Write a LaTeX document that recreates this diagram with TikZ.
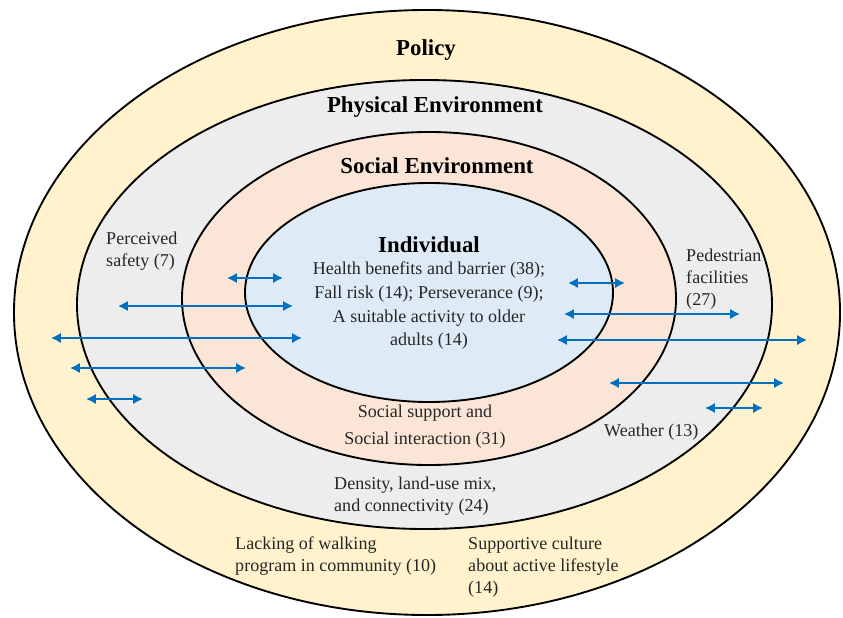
\documentclass[tikz,border=0pt]{standalone}
\usepackage{fontspec}
\setmainfont{Liberation Serif}
\usetikzlibrary{shapes.geometric,arrows.meta}

\definecolor{PolicyYellow}{HTML}{FFF2CC}
\definecolor{PhysicalGrey}{HTML}{EDEDED}
\definecolor{SocialPeach}{HTML}{FBE5D6}
\definecolor{IndividualBlue}{HTML}{DEEBF7}
\definecolor{LinkBlue}{HTML}{0070C0}

\begin{document}
\begin{tikzpicture}[x=0.03cm,y=-0.03cm,
  ring/.style={draw=black,line width=1.6pt,ellipse,inner sep=0pt},
  link/.style={draw=LinkBlue,line width=1.8pt,{Latex[length=8.5pt,width=9pt]}-{Latex[length=8.5pt,width=9pt]}},
  layername/.style={font=\fontsize{19.5}{22}\selectfont\bfseries,inner sep=0pt},
  factor/.style={font=\fontsize{15.4}{18.8}\selectfont,text=black!85,inner sep=0pt}]
  \useasboundingbox (0,0) rectangle (843,617);

  % nested levels
  \node[ring,fill=PolicyYellow,  minimum width=24.78cm,minimum height=18.15cm](policy)     at (427,312.5) {};
  \node[ring,fill=PhysicalGrey,  minimum width=20.85cm,minimum height=13.47cm](physical)   at (424.5,304.5) {};
  \node[ring,fill=SocialPeach,   minimum width=14.82cm,minimum height=9.99cm] (social)     at (429,298.5) {};
  \node[ring,fill=IndividualBlue,minimum width=11.04cm,minimum height=6.57cm] (individual) at (429,292.5) {};

  % interactions across levels
  \foreach \y/\xa/\xb [count=\i] in {278/227/283, 306/118/293, 338/51/302, 368/70/246, 399/86/143,
                                     283/568/625, 314/564/740, 340/557/807, 383/609/784, 408/705/763} {
    \coordinate (link\i a) at (\xa,\y);
    \coordinate (link\i b) at (\xb,\y);
    \draw[link] (link\i a) -- (link\i b);
  }

  \node[layername](policytitle)     at (426,50)  {Policy};
  \node[layername](physicaltitle)   at (435,107) {Physical Environment};
  \node[layername](socialtitle)     at (437,166) {Social Environment};
  \node[layername](individualtitle) at (429,245) {Individual};

  \node[factor,align=center,font=\fontsize{15.4}{20.2}\selectfont](health) at (429,306)
    {Health benefits and barrier (38);\\Fall risk (14); Perseverance (9);\\A suitable activity to older\\adults (14)};
  \node[factor,align=left,anchor=west](safety) at (106,251) {Perceived\\safety (7)};
  \node[factor,align=left,anchor=west](pedestrian) at (686,279) {Pedestrian\\facilities\\(27)};
  \node[factor,align=center,font=\fontsize{15.4}{23}\selectfont](support) at (425,427) {Social support and\\Social interaction (31)};
  \node[factor,anchor=west](weather) at (604,432) {Weather (13)};
  \node[factor,align=left,anchor=west](density) at (334,496) {Density, land-use mix,\\and connectivity (24)};
  \node[factor,align=left,anchor=west](lacking) at (235,556) {Lacking of walking\\program in community (10)};
  \node[factor,align=left,anchor=west](culture) at (468,567) {Supportive culture\\about active lifestyle\\(14)};
\end{tikzpicture}
\end{document}
